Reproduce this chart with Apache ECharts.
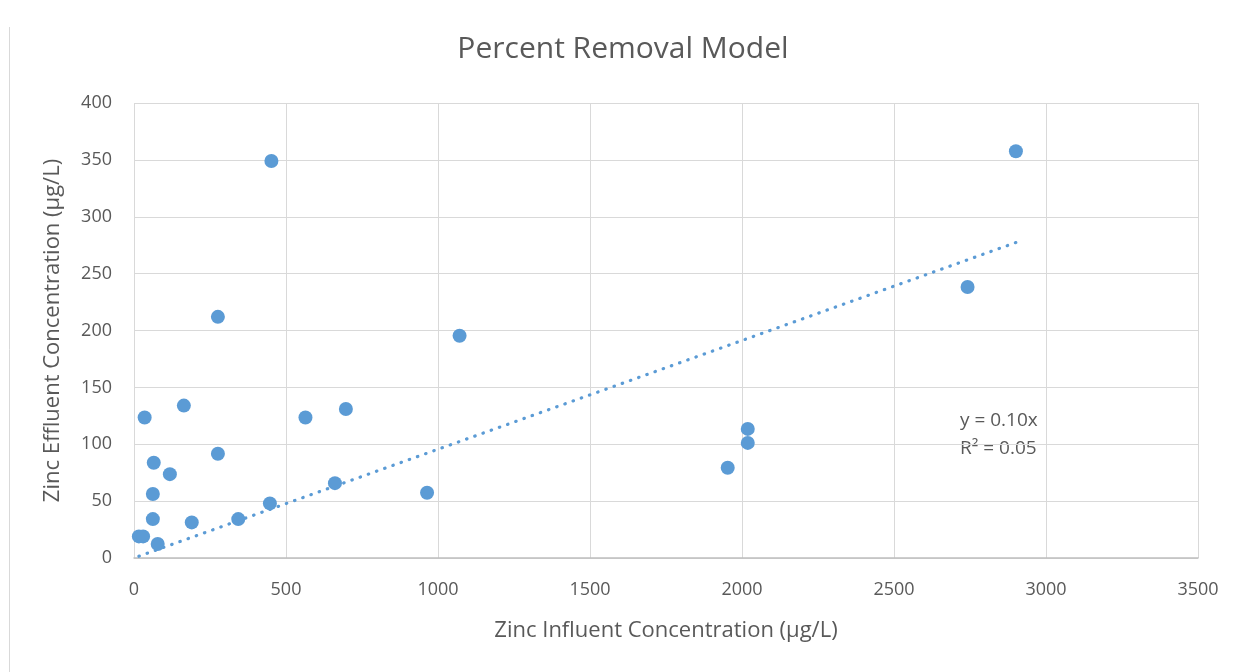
<!DOCTYPE html>
<html>
<head>
<meta charset="utf-8">
<script src="https://cdn.jsdelivr.net/npm/echarts@6/dist/echarts.min.js"></script>
<style>
  html, body { margin: 0; padding: 0; background: #fff; }
  #chart { width: 1246px; height: 672px; }
</style>
</head>
<body>
<div id="chart"></div>
<script>
// influent (x) and effluent (y) zinc, µg/L
var influent = [452, 276, 35, 164, 564, 697, 276, 65, 118, 62, 62, 190, 343, 447, 661, 16, 30, 78,
  1071, 964, 1953, 2019, 2019, 2901, 2742];
var effluent = [349, 212, 123.5, 134, 123.5, 131, 91.6, 83.7, 73.7, 56.2, 34.2, 31.3, 34.2, 48, 65.8, 19, 19, 12.3,
  195.4, 57.3, 79.3, 113.5, 101.2, 357.6, 238.2];

var xTicks = [0, 500, 1000, 1500, 2000, 2500, 3000, 3500];
var yTicks = [0, 50, 100, 150, 200, 250, 300, 350, 400];

// trendline shown on the chart: y = 0.10x (through origin), R² = 0.05
var trendSlope = 0.0956;
var trendLabel = ["y = 0.10x", "R\u00b2 = 0.05"];

var points = influent.map(function(x, i) {
  return [x, effluent[i]];
});
var xMin = Math.min.apply(null, influent);
var xMax = Math.max.apply(null, influent);
var trend = [[xMin, xMin * trendSlope], [xMax, xMax * trendSlope]];

var font = "'Open Sans', 'Noto Sans', sans-serif";
var textColor = "#595959";

var chart = echarts.init(document.getElementById("chart"));
chart.setOption({
  backgroundColor: "#ffffff",
  animation: false,
  title: {
    text: "Percent Removal Model",
    left: "center",
    top: 29,
    textStyle: {
      fontFamily: font,
      fontWeight: "normal",
      fontSize: 30,
      color: textColor
    }
  },
  grid: {
    left: 134,
    right: 48,
    top: 103,
    bottom: 114
  },
  xAxis: {
    type: "value",
    min: xTicks[0],
    max: xTicks[xTicks.length - 1],
    interval: 500,
    name: "Zinc Influent Concentration (\u00b5g/L)",
    nameLocation: "middle",
    nameGap: 62,
    nameTextStyle: { fontFamily: font, fontSize: 22, color: textColor },
    axisLine: { show: true, lineStyle: { color: "#bfbfbf", width: 1.5 } },
    axisTick: { show: false },
    axisLabel: {
      fontFamily: font, fontSize: 18, color: textColor, margin: 23,
      formatter: function(v) { return String(v); }
    },
    splitLine: { show: true, lineStyle: { color: "#d9d9d9", width: 1 } }
  },
  yAxis: {
    type: "value",
    min: yTicks[0],
    max: yTicks[yTicks.length - 1],
    interval: 50,
    name: "Zinc Effluent Concentration (\u00b5g/L)",
    nameLocation: "middle",
    nameGap: 70,
    nameTextStyle: { fontFamily: font, fontSize: 22, color: textColor },
    axisLine: { show: false },
    axisTick: { show: false },
    axisLabel: { fontFamily: font, fontSize: 18, color: textColor, margin: 22 },
    splitLine: { show: true, lineStyle: { color: "#d9d9d9", width: 1 } }
  },
  series: [
    {
      name: "Trend",
      type: "line",
      data: trend,
      symbol: "none",
      silent: true,
      z: 1,
      lineStyle: {
        color: "#5b9bd5",
        width: 3.2,
        type: [0.5, 8.2],
        cap: "round"
      }
    },
    {
      name: "Zinc",
      type: "scatter",
      data: points,
      symbolSize: 14,
      z: 2,
      itemStyle: { color: "#5b9bd5", opacity: 1 }
    }
  ],
  graphic: [
    {
      type: "line",
      shape: { x1: 9.5, y1: 27, x2: 9.5, y2: 672 },
      style: { stroke: "#d9d9d9", lineWidth: 1 }
    },
    {
      // right border of plot area
      type: "line",
      shape: { x1: 1198.5, y1: 103, x2: 1198.5, y2: 558 },
      style: { stroke: "#d9d9d9", lineWidth: 1 }
    },
    {
      type: "text",
      left: 960,
      top: 407,
      style: {
        text: trendLabel.join("\n"),
        fontFamily: font,
        fontSize: 19,
        lineHeight: 28,
        fill: textColor
      }
    }
  ]
});
</script>
</body>
</html>
